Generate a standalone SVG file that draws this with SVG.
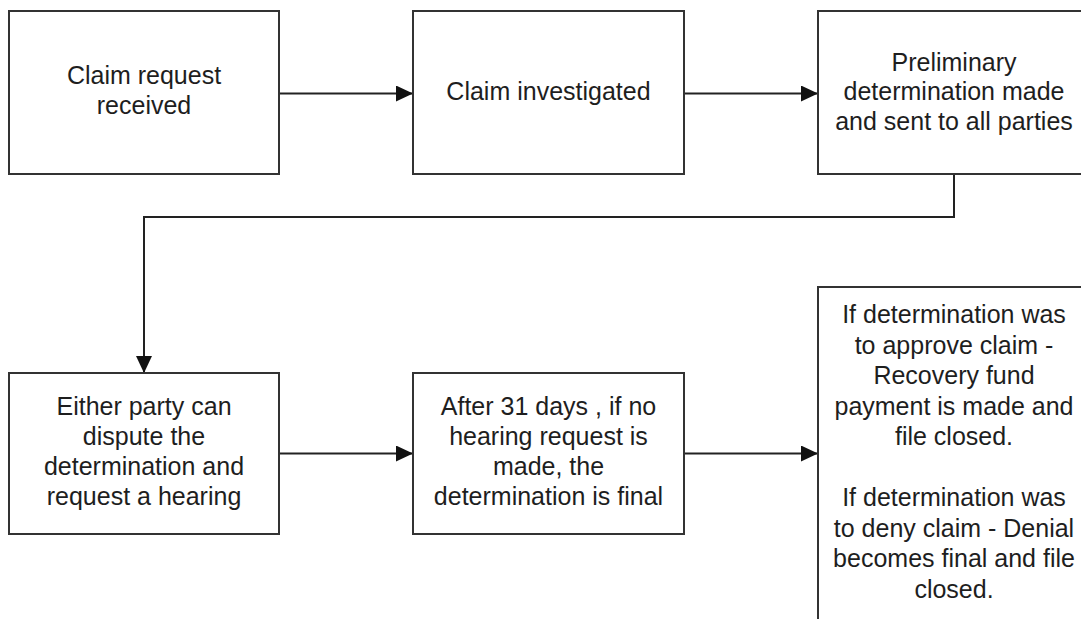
<svg xmlns="http://www.w3.org/2000/svg" width="1081" height="619" viewBox="0 0 1081 619">
<style>
.box{fill:#ffffff;stroke:#333333;stroke-width:2}
.lbl{font-family:"Liberation Sans",Arial,sans-serif;font-size:25px;fill:#1e1e1e;text-anchor:middle}
.con{fill:none;stroke:#222222;stroke-width:2}
</style>
<defs>
<marker id="arr" viewBox="0 0 17 16" refX="17" refY="8" markerWidth="17" markerHeight="16" markerUnits="userSpaceOnUse" orient="auto">
<path d="M0,0 L17,8 L0,16 Z" fill="#111111"/>
</marker>
</defs>
<rect width="1081" height="619" fill="#ffffff"/>
<g id="connectors">
<path class="con" d="M279,93.5 H413" marker-end="url(#arr)"/>
<path class="con" d="M684,93.5 H818" marker-end="url(#arr)"/>
<path class="con" d="M954,174 V217 H144 V373" marker-end="url(#arr)"/>
<path class="con" d="M279,453.5 H413" marker-end="url(#arr)"/>
<path class="con" d="M684,453.5 H818" marker-end="url(#arr)"/>
</g>
<g id="n1">
<rect class="box" x="9" y="11" width="270" height="163"/>
<text class="lbl" x="144" y="84">Claim request</text>
<text class="lbl" x="144" y="114">received</text>
</g>
<g id="n2">
<rect class="box" x="413" y="11" width="271" height="163"/>
<text class="lbl" x="548.5" y="100">Claim investigated</text>
</g>
<g id="n3">
<rect class="box" x="818" y="11" width="271" height="163"/>
<text class="lbl" x="954" y="70.5">Preliminary</text>
<text class="lbl" x="954" y="100">determination made</text>
<text class="lbl" x="954" y="129.5">and sent to all parties</text>
</g>
<g id="n4">
<rect class="box" x="9" y="373" width="270" height="161"/>
<text class="lbl" x="144" y="415">Either party can</text>
<text class="lbl" x="144" y="445">dispute the</text>
<text class="lbl" x="144" y="475">determination and</text>
<text class="lbl" x="144" y="505">request a hearing</text>
</g>
<g id="n5">
<rect class="box" x="413" y="373" width="271" height="161"/>
<text class="lbl" x="548.5" y="415">After 31 days , if no</text>
<text class="lbl" x="548.5" y="445">hearing request is</text>
<text class="lbl" x="548.5" y="475">made, the</text>
<text class="lbl" x="548.5" y="505">determination is final</text>
</g>
<g id="n6">
<rect class="box" x="818" y="287" width="271" height="340"/>
<text class="lbl" x="954" y="323">If determination was</text>
<text class="lbl" x="954" y="353.5">to approve claim -</text>
<text class="lbl" x="954" y="384">Recovery fund</text>
<text class="lbl" x="954" y="414.5">payment is made and</text>
<text class="lbl" x="954" y="445">file closed.</text>
<text class="lbl" x="954" y="506">If determination was</text>
<text class="lbl" x="954" y="536.5">to deny claim - Denial</text>
<text class="lbl" x="954" y="567">becomes final and file</text>
<text class="lbl" x="954" y="597.5">closed.</text>
</g>
</svg>
